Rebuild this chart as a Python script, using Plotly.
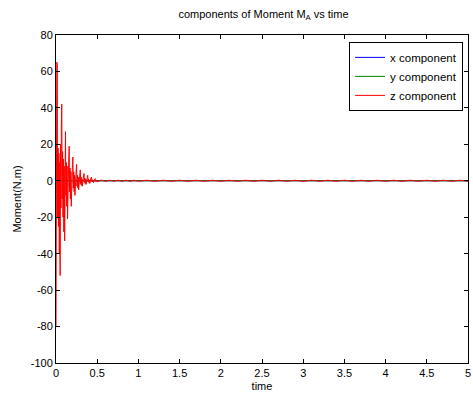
import plotly.graph_objects as go

# ---- data ----
t_head = [0.000, 0.005, 0.010, 0.015, 0.020, 0.025, 0.030, 0.035, 0.040, 0.045,
          0.050, 0.055, 0.060, 0.065, 0.070, 0.075, 0.080, 0.085, 0.090, 0.095,
          0.100, 0.105, 0.110, 0.115, 0.120, 0.125, 0.130, 0.135, 0.140, 0.145,
          0.150, 0.155, 0.160, 0.165, 0.170, 0.175, 0.180, 0.185, 0.190, 0.195,
          0.200, 0.205, 0.210, 0.215, 0.220, 0.225, 0.230, 0.235, 0.240, 0.245,
          0.250, 0.255, 0.260, 0.265, 0.270, 0.275, 0.280, 0.285, 0.290, 0.295,
          0.300, 0.305, 0.310, 0.315, 0.320, 0.325, 0.330, 0.335, 0.340, 0.345,
          0.350, 0.355, 0.360, 0.365, 0.370, 0.375, 0.380, 0.385, 0.390, 0.395,
          0.400, 0.405, 0.410, 0.415, 0.420, 0.425, 0.430, 0.435, 0.440, 0.445,
          0.450, 0.455, 0.460, 0.465, 0.470, 0.475, 0.480, 0.485, 0.490, 0.495,
          0.500]
z_head = [-80, 20, 65, 64, -20, 18, -25, 15, -40, 10,
          -52, 20, -15, 30, 42, -10, 16, -20, 12, -28,
          8, -33, 14, 27, -8, 10, -14, 8, -21, 6,
          -12, 12, 19, -6, 7, -10, 5, -14, 4, -6,
          9, 13, -4, 5, -6, 3, -8, 3, -3, 6,
          9, -3, 3, -4, 2, -5, 2, -2, 4, 6,
          -2, 2, -2.5, 1, -3, 1, -1, 3, 4, -1,
          1.5, -1.5, 0.8, -2, 0.6, -0.8, 2, 3, -0.6, 1,
          -1, 0.5, -1.5, 0.4, -0.5, 1.5, 2, -0.4, 0.6, -0.6,
          0.3, -1, 0.3, -0.3, 0.8, 1.2, -0.3, 0.4, -0.4, 0.2,
          -0.6]
t_tail = [0.55, 0.60, 0.65, 0.70, 0.75, 0.80, 0.85, 0.90, 0.95, 1.00,
          1.10, 1.20, 1.30, 1.40, 1.50, 1.60, 1.70, 1.80, 1.90, 2.00,
          2.10, 2.20, 2.30, 2.40, 2.50, 2.60, 2.70, 2.80, 2.90, 3.00,
          3.10, 3.20, 3.30, 3.40, 3.50, 3.60, 3.70, 3.80, 3.90, 4.00,
          4.10, 4.20, 4.30, 4.40, 4.50, 4.60, 4.70, 4.80, 4.90, 5.00]
z_tail = [0.4, -0.4, 0.3, -0.3, 0.3, -0.3, 0.3, -0.3, 0.3, -0.3,
          0.3, -0.3, 0.3, -0.3, 0.3, -0.3, 0.3, -0.3, 0.3, -0.3,
          0.3, -0.3, 0.3, -0.3, 0.3, -0.3, 0.3, -0.3, 0.3, -0.3,
          0.3, -0.3, 0.3, -0.3, 0.3, -0.3, 0.3, -0.3, 0.3, -0.3,
          0.3, -0.3, 0.3, -0.3, 0.3, -0.3, 0.3, -0.3, 0.3, -0.3]

t_xy = [0.0, 0.5, 1.0, 1.5, 2.0, 2.5, 3.0, 3.5, 4.0, 4.5, 5.0]
x_comp = [0, 0, 0, 0, 0, 0, 0, 0, 0, 0, 0]
y_comp = [0, 0, 0, 0, 0, 0, 0, 0, 0, 0, 0]

series_names = ["x component", "y component", "z component"]
x_ticks = [0, 0.5, 1, 1.5, 2, 2.5, 3, 3.5, 4, 4.5, 5]
y_ticks = [-100, -80, -60, -40, -20, 0, 20, 40, 60, 80]

FONT = "Liberation Sans, Arial, sans-serif"

fig = go.Figure()
fig.add_trace(go.Scatter(x=t_xy, y=x_comp, mode="lines", name=series_names[0],
                         line=dict(color="#0000ff", width=1)))
fig.add_trace(go.Scatter(x=t_xy, y=y_comp, mode="lines", name=series_names[1],
                         line=dict(color="#008000", width=1)))
fig.add_trace(go.Scatter(x=t_head + t_tail, y=z_head + z_tail, mode="lines",
                         name=series_names[2],
                         line=dict(color="#ff0000", width=1)))

axis_common = dict(showgrid=False, zeroline=False, showline=True, linecolor="black",
                   linewidth=1, mirror="ticks", ticks="inside", ticklen=4,
                   tickcolor="black", ticklabeloverflow="allow",
                   tickfont=dict(family=FONT, size=11, color="black"))

fig.update_layout(
    width=473, height=399,
    margin=dict(l=56, r=2, t=35, b=36),
    paper_bgcolor="white", plot_bgcolor="white",
    font=dict(family=FONT, size=11, color="black"),
    title=dict(text="components of Moment M<sub>A</sub> vs time",
               x=(56 + 471) / 2 / 473, xanchor="center",
               y=1 - 14 / 399, yanchor="middle",
               font=dict(family=FONT, size=11, color="black")),
    xaxis=dict(range=[0, 5], tickvals=x_ticks, ticktext=[f"{v:g}" for v in x_ticks],
               title=dict(text="time", standoff=4, font=dict(family=FONT, size=11)),
               **axis_common),
    yaxis=dict(range=[-100, 80], tickvals=y_ticks, ticktext=[str(v) for v in y_ticks],
               title=dict(text="Moment(N.m)", standoff=6, font=dict(family=FONT, size=11)),
               **axis_common),
    legend=dict(x=0.988, xanchor="right", y=0.979, yanchor="top",
                bgcolor="white", bordercolor="black", borderwidth=1,
                font=dict(family=FONT, size=11.5, color="black"),
                tracegroupgap=0),
    showlegend=True,
)

fig.write_html("out.html")
